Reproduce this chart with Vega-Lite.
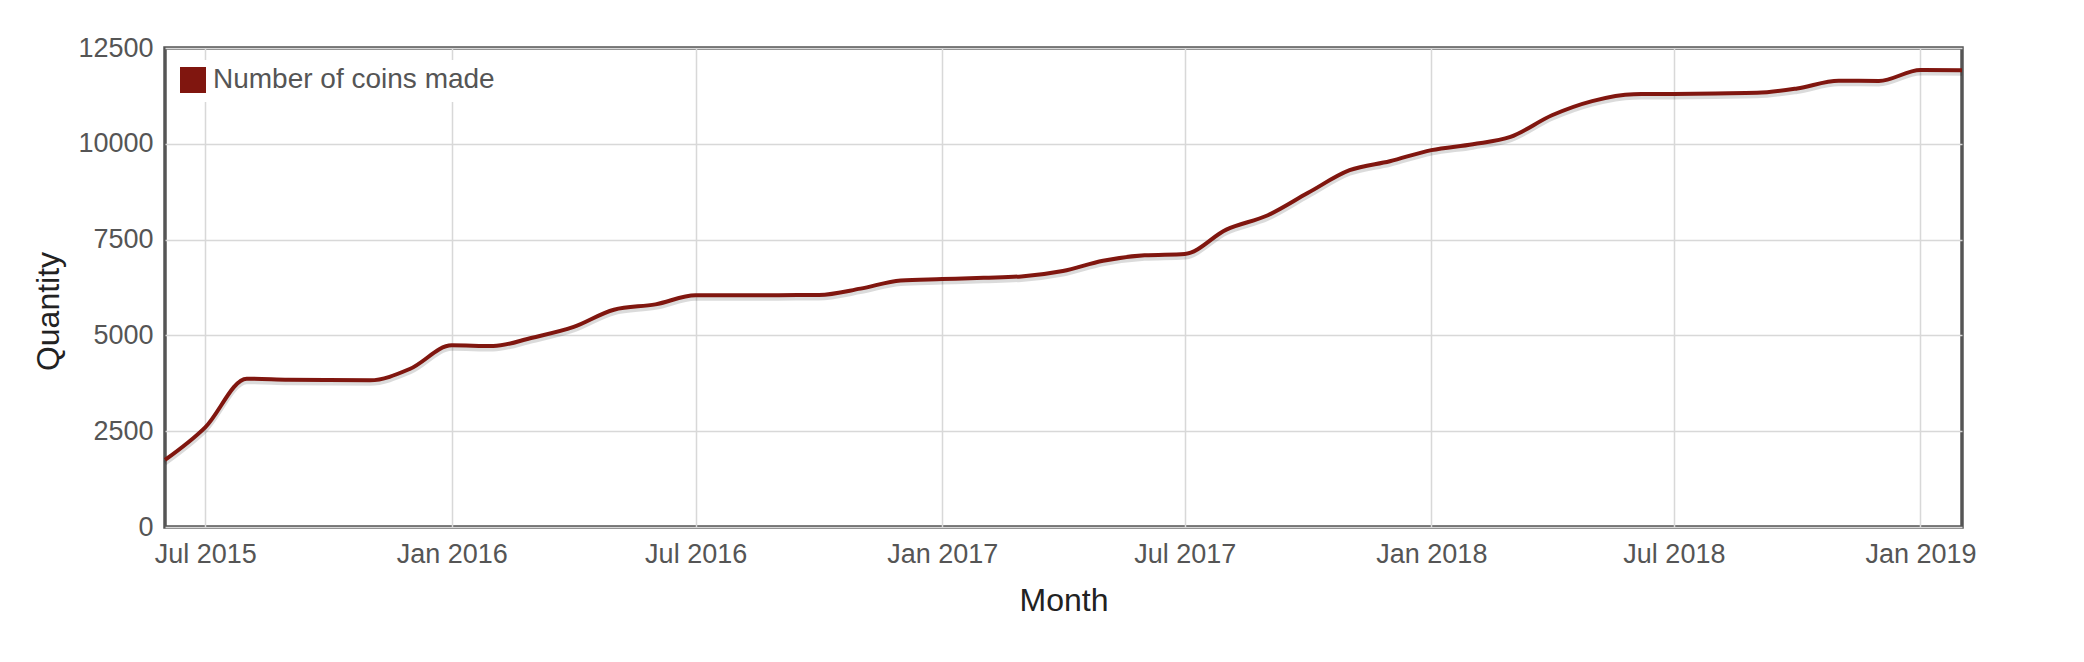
{
  "$schema": "https://vega.github.io/schema/vega-lite/v6.json",
  "autosize": "none",
  "padding": {"left": 165, "top": 48, "right": 122, "bottom": 135},
  "width": 1797,
  "height": 479,
  "config": {
    "font": "Liberation Sans",
    "view": {"stroke": "#555555", "strokeWidth": 3.5}
  },
  "data": {
    "values": [
      {"month": "2015-06-01T00:00:00", "qty": 1750},
      {"month": "2015-07-01T00:00:00", "qty": 2600},
      {"month": "2015-08-01T00:00:00", "qty": 3870},
      {"month": "2015-09-01T00:00:00", "qty": 3845},
      {"month": "2015-10-01T00:00:00", "qty": 3835},
      {"month": "2015-11-01T00:00:00", "qty": 3830},
      {"month": "2015-12-01T00:00:00", "qty": 4130},
      {"month": "2016-01-01T00:00:00", "qty": 4740},
      {"month": "2016-02-01T00:00:00", "qty": 4725},
      {"month": "2016-03-01T00:00:00", "qty": 4940},
      {"month": "2016-04-01T00:00:00", "qty": 5220},
      {"month": "2016-05-01T00:00:00", "qty": 5670},
      {"month": "2016-06-01T00:00:00", "qty": 5810},
      {"month": "2016-07-01T00:00:00", "qty": 6045},
      {"month": "2016-08-01T00:00:00", "qty": 6045},
      {"month": "2016-09-01T00:00:00", "qty": 6050},
      {"month": "2016-10-01T00:00:00", "qty": 6055},
      {"month": "2016-11-01T00:00:00", "qty": 6220},
      {"month": "2016-12-01T00:00:00", "qty": 6435},
      {"month": "2017-01-01T00:00:00", "qty": 6470},
      {"month": "2017-02-01T00:00:00", "qty": 6505},
      {"month": "2017-03-01T00:00:00", "qty": 6540},
      {"month": "2017-04-01T00:00:00", "qty": 6680},
      {"month": "2017-05-01T00:00:00", "qty": 6950},
      {"month": "2017-06-01T00:00:00", "qty": 7090},
      {"month": "2017-07-01T00:00:00", "qty": 7125},
      {"month": "2017-08-01T00:00:00", "qty": 7760},
      {"month": "2017-09-01T00:00:00", "qty": 8135},
      {"month": "2017-10-01T00:00:00", "qty": 8720},
      {"month": "2017-11-01T00:00:00", "qty": 9310},
      {"month": "2017-12-01T00:00:00", "qty": 9545},
      {"month": "2018-01-01T00:00:00", "qty": 9835},
      {"month": "2018-02-01T00:00:00", "qty": 9990},
      {"month": "2018-03-01T00:00:00", "qty": 10180},
      {"month": "2018-04-01T00:00:00", "qty": 10745},
      {"month": "2018-05-01T00:00:00", "qty": 11115},
      {"month": "2018-06-01T00:00:00", "qty": 11295},
      {"month": "2018-07-01T00:00:00", "qty": 11300},
      {"month": "2018-08-01T00:00:00", "qty": 11315},
      {"month": "2018-09-01T00:00:00", "qty": 11330},
      {"month": "2018-10-01T00:00:00", "qty": 11445},
      {"month": "2018-11-01T00:00:00", "qty": 11645},
      {"month": "2018-12-01T00:00:00", "qty": 11640},
      {"month": "2019-01-01T00:00:00", "qty": 11925},
      {"month": "2019-02-01T00:00:00", "qty": 11920}
    ]
  },
  "encoding": {
    "x": {
      "field": "month",
      "type": "temporal",
      "title": "Month",
      "scale": {"nice": false},
      "axis": {
        "values": [
          {"year": 2015, "month": "jul", "date": 1},
          {"year": 2016, "month": "jan", "date": 1},
          {"year": 2016, "month": "jul", "date": 1},
          {"year": 2017, "month": "jan", "date": 1},
          {"year": 2017, "month": "jul", "date": 1},
          {"year": 2018, "month": "jan", "date": 1},
          {"year": 2018, "month": "jul", "date": 1},
          {"year": 2019, "month": "jan", "date": 1}
        ],
        "format": "%b %Y",
        "labelFontSize": 27,
        "labelColor": "#555555",
        "labelPadding": 14,
        "ticks": false,
        "domain": false,
        "gridColor": "#d8d8d8",
        "gridWidth": 1.5,
        "titleFontSize": 32,
        "titleFontWeight": "normal",
        "titleColor": "#222222",
        "titlePadding": 18
      }
    },
    "y": {
      "field": "qty",
      "type": "quantitative",
      "title": "Quantity",
      "scale": {"domain": [0, 12500], "nice": false},
      "axis": {
        "values": [0, 2500, 5000, 7500, 10000, 12500],
        "format": "d",
        "labelFontSize": 27,
        "labelColor": "#555555",
        "labelPadding": 12,
        "ticks": false,
        "domain": false,
        "gridColor": "#d8d8d8",
        "gridWidth": 1.5,
        "titleFontSize": 32,
        "titleFontWeight": "normal",
        "titleColor": "#222222",
        "titlePadding": 12,
        "titleY": 263
      }
    }
  },
  "layer": [
    {
      "mark": {"type": "line", "interpolate": "monotone", "color": "#000000", "opacity": 0.14, "strokeWidth": 5, "yOffset": 3}
    },
    {
      "mark": {"type": "line", "interpolate": "monotone", "strokeWidth": 4},
      "encoding": {
        "color": {
          "datum": "Number of coins made",
          "scale": {"range": ["#80160f"]},
          "legend": {
            "title": null,
            "orient": "none",
            "legendX": 8,
            "legendY": 12,
            "padding": 6,
            "fillColor": "#ffffff",
            "symbolType": "square",
            "symbolSize": 576,
            "labelFontSize": 28,
            "labelColor": "#555555",
            "labelOffset": 6,
            "labelLimit": 0,
            "encode": {
              "symbols": {
                "update": {
                  "fill": {"value": "#80160f"},
                  "stroke": {"value": "#cccccc"},
                  "strokeWidth": {"value": 2},
                  "opacity": {"value": 1}
                }
              }
            }
          }
        }
      }
    }
  ]
}
